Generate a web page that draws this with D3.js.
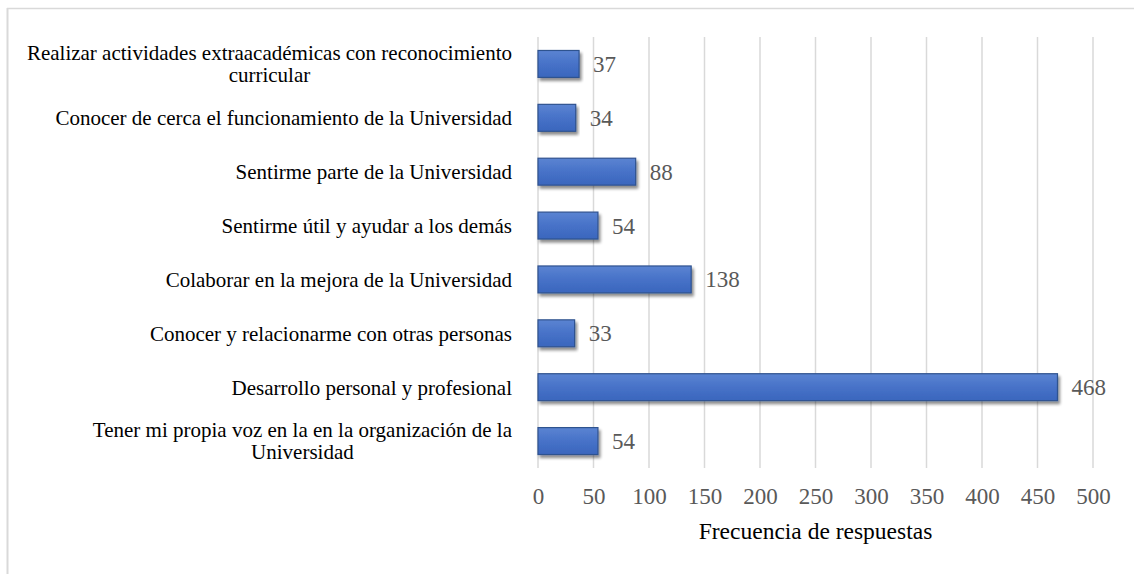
<!DOCTYPE html>
<html><head><meta charset="utf-8">
<script src="https://cdn.jsdelivr.net/npm/d3@7"></script>
<style>body{margin:0;background:#fff}svg{display:block}</style>
</head><body>
<script>
const categories = [
  "Realizar actividades extraacadémicas con reconocimiento|curricular",
  "Conocer de cerca el funcionamiento de la Universidad",
  "Sentirme parte de la Universidad",
  "Sentirme útil y ayudar a los demás",
  "Colaborar en la mejora de la Universidad",
  "Conocer y relacionarme con otras personas",
  "Desarrollo personal y profesional",
  "Tener mi propia voz en la en la organización de la|Universidad"
];
const values = [37, 34, 88, 54, 138, 33, 468, 54];
const ticks = [0, 50, 100, 150, 200, 250, 300, 350, 400, 450, 500];
const axisTitle = "Frecuencia de respuestas";

const W = 1134, H = 574;
const FONT = "'Liberation Serif', 'Times New Roman', serif";
const svg = d3.select("body").append("svg").attr("width", W).attr("height", H);
const defs = svg.append("defs");
const g1 = defs.append("linearGradient").attr("id","bg").attr("x1",0).attr("y1",0).attr("x2",0).attr("y2",1);
g1.append("stop").attr("offset","0%").attr("stop-color","#5b84d2");
g1.append("stop").attr("offset","50%").attr("stop-color","#4772c8");
g1.append("stop").attr("offset","100%").attr("stop-color","#3a66bd");
const f = defs.append("filter").attr("id","sh").attr("x","-5%").attr("y","-30%").attr("width","115%").attr("height","170%");
f.append("feGaussianBlur").attr("in","SourceAlpha").attr("stdDeviation",1.6).attr("result","b");
f.append("feOffset").attr("in","b").attr("dx",1.5).attr("dy",2.5).attr("result","o");
f.append("feComponentTransfer").attr("in","o").attr("result","o2").append("feFuncA").attr("type","linear").attr("slope",0.45);
const m = f.append("feMerge"); m.append("feMergeNode").attr("in","o2"); m.append("feMergeNode").attr("in","SourceGraphic");

// outer border
svg.append("line").attr("x1",7).attr("x2",W).attr("y1",8.5).attr("y2",8.5).attr("stroke","#d9d9d9").attr("stroke-width",1.5);
svg.append("line").attr("x1",7.5).attr("x2",7.5).attr("y1",8).attr("y2",H).attr("stroke","#d9d9d9").attr("stroke-width",2);

const x = d3.scaleLinear().domain([0,500]).range([538,1093]);
const y = d3.scaleBand().domain(categories).range([37,468]).paddingInner(0.5).paddingOuter(0.25);

const grid = svg.append("g");
grid.selectAll("line").data(ticks).join("line")
  .attr("x1",d=>x(d)).attr("x2",d=>x(d)).attr("y1",37).attr("y2",468)
  .attr("stroke","#d9d9d9").attr("stroke-width",1.5);

const xAxis = d3.axisBottom(x).tickValues(ticks).tickSize(0).tickPadding(0);
const ax = svg.append("g").attr("transform","translate(0,496)").call(xAxis);
ax.select(".domain").remove();
ax.selectAll("text").attr("font-family",FONT).attr("font-size",23).attr("fill","#595959").attr("dy","0.35em").attr("y",0);

svg.selectAll("rect.bar").data(values).join("rect").attr("class","bar")
  .attr("x",x(0)).attr("y",(d,i)=>y(categories[i]))
  .attr("width",d=>x(d)-x(0)).attr("height",y.bandwidth())
  .attr("fill","url(#bg)").attr("stroke","#2f528f").attr("stroke-width",1.2)
  .attr("filter","url(#sh)");

svg.selectAll("text.val").data(values).join("text").attr("class","val")
  .attr("x",d=>x(d)+14).attr("y",(d,i)=>y(categories[i])+y.bandwidth()/2)
  .attr("dy","0.35em").attr("font-family",FONT).attr("font-size",23).attr("fill","#595959")
  .text(d=>d);

const lab = svg.append("g").attr("font-family",FONT).attr("font-size",21).attr("fill","#000");
const right = 512;
categories.forEach((c,i)=>{
  const lines = c.split("|");
  const cy = y(c)+y.bandwidth()/2;
  const t = lab.append("text").attr("text-anchor", lines.length>1?"middle":"end");
  if (lines.length===1) {
    t.attr("x",right).attr("y",cy).attr("dy","0.35em").text(lines[0]);
  } else {
    const tmp = lab.append("text").text(lines[0]);
    const w = tmp.node().getComputedTextLength(); tmp.remove();
    const cx = right - w/2;
    lines.forEach((l,k)=>{
      t.append("tspan").attr("x",cx).attr("y",cy + (k-(lines.length-1)/2)*22).attr("dy","0.35em").text(l);
    });
  }
});

svg.append("text").attr("x",(x(0)+x(500))/2).attr("y",531).attr("dy","0.35em").attr("text-anchor","middle")
  .attr("font-family",FONT).attr("font-size",23.5).attr("fill","#000").text(axisTitle);
</script>
</body></html>
